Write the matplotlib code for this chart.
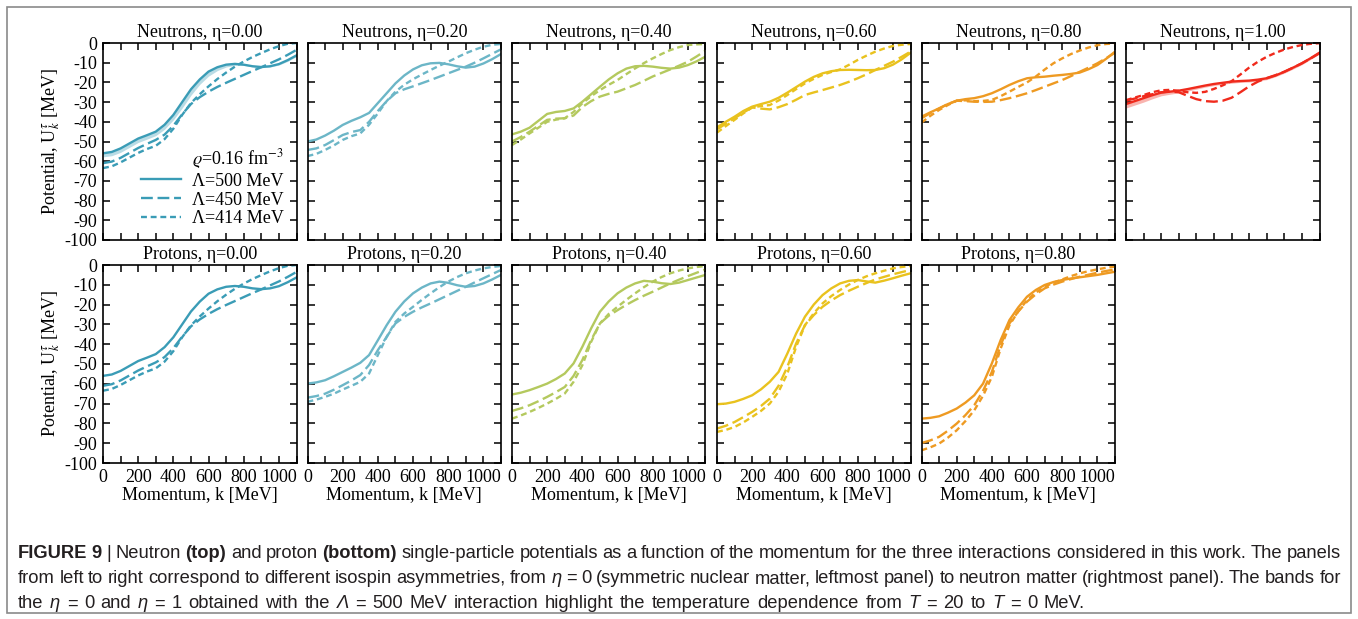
import matplotlib
matplotlib.use('Agg')
import matplotlib.pyplot as plt
from matplotlib.lines import Line2D
from matplotlib.patches import Rectangle
from matplotlib.ticker import MultipleLocator

plt.rcParams['font.family'] = ['Liberation Serif', 'DejaVu Serif']
plt.rcParams['mathtext.fontset'] = 'stix'
plt.rcParams['axes.unicode_minus'] = False

# momentum grid [MeV]
K = [0, 50, 100, 150, 200, 250, 300, 350, 400, 450, 500, 550,
     600, 650, 700, 750, 800, 850, 900, 950, 1000, 1050, 1100]

ETAS = ['0.00', '0.20', '0.40', '0.60', '0.80', '1.00']
COLORS = ['#3a9cb6', '#6cb6c7', '#b4c95e', '#e9c21e', '#ee9a22', '#f02a1c']

# neutron potentials [MeV] for Lambda = 500 / 450 / 414 MeV
n000_500 = [-56, -55.3, -53.5, -51, -48.5, -46.8, -45, -41.5, -36.5, -30, -23.5, -18.5,
            -14.5, -12.3, -11, -10.6, -11, -11.8, -12.2, -11.8, -10.7, -8.7, -6.3]
n000_500_t20 = [-57.8, -57.2, -55.5, -53, -50.5, -48.8, -47, -43.8, -39, -33, -26.5, -21,
                -16.8, -14, -12.2, -11.3, -11.4, -12.1, -12.5, -12.2, -11.2, -9.3, -6.9]
n000_450 = [-61, -60.2, -58.3, -55.8, -53.3, -51.2, -49.2, -46.5, -42, -36.2, -31, -27.5,
            -24.7, -22.3, -20.2, -18.2, -16.2, -14.2, -12.3, -10.3, -8.3, -6, -3.5]
n000_414 = [-63.5, -62.6, -60.6, -58.2, -55.8, -53.8, -52.2, -48.8, -43.5, -36.5, -30.5, -26,
            -22, -18.3, -15, -12, -9.4, -7.1, -5.1, -3.2, -1.6, -0.4, 0]

n020_500 = [-50, -49, -47, -44.5, -41.6, -39.5, -37.7, -35.5, -30.5, -25.5, -20.5, -16.5,
            -13.4, -11.3, -10.3, -10.1, -10.8, -11.8, -12.5, -12, -10.4, -8.2, -5.6]
n020_450 = [-54.3, -53.5, -51.8, -49.3, -46.7, -45.2, -44.2, -40, -34.5, -29.5, -25.5, -23.5,
            -22, -20.4, -18.8, -17.1, -15.4, -13.7, -12, -10, -7.8, -5.5, -3.2]
n020_414 = [-57.4, -56.3, -54.3, -52, -49.2, -47.3, -45.9, -41.5, -35.7, -29.5, -24.7, -21.2,
            -18.4, -16, -13.7, -11.5, -9.5, -7.3, -5.2, -3.4, -1.9, -0.9, -0.5]

n040_500 = [-46.4, -45, -43, -39.5, -36, -35, -34.5, -33.2, -29.8, -26, -22.2, -18.5,
            -15.4, -13, -11.8, -11.6, -12, -12.6, -13, -12.5, -11.2, -9.3, -6.9]
n040_450 = [-50, -47.7, -45, -42, -39, -38.4, -38.2, -36.8, -32.5, -29.5, -27.2, -25.8,
            -24.7, -23, -21.3, -19.2, -17, -15.2, -13.4, -11.5, -9.5, -6.8, -3.9]
n040_414 = [-51.8, -49, -45.9, -43, -40, -38.9, -38.2, -35, -30.6, -27, -23.9, -21.2,
            -18.8, -15.8, -12.9, -10.2, -7.8, -5.6, -3.6, -2.1, -1, -0.7, -0.5]

n060_500 = [-42.8, -40, -37.4, -34.5, -32.3, -31, -29.8, -27.8, -25.2, -22.4, -19.6, -17.2,
            -15.4, -14.3, -13.7, -13.6, -13.7, -13.8, -13.7, -12.8, -11, -8.3, -5]
n060_450 = [-43.8, -41, -38.2, -35.3, -32.7, -33.3, -33.7, -32.6, -31, -28.8, -26.4, -25.1,
            -23.9, -22.6, -21.3, -19.7, -17.9, -15.9, -13.7, -11.6, -9.5, -7, -4.4]
n060_414 = [-45.5, -42.2, -39, -35.7, -32.7, -32, -31.5, -29.2, -26.4, -23.4, -20.5, -18.2,
            -16.2, -14.7, -13.4, -11.1, -8.6, -6.4, -4.4, -2.8, -1.5, -0.9, -0.5]

n080_500 = [-37.4, -35.2, -33.2, -31, -29.3, -28.5, -28, -27, -25.5, -23.5, -21.3, -19.4,
            -17.9, -17.4, -17.1, -16.6, -16.2, -15.7, -15, -13.3, -11.2, -8, -4.4]
n080_450 = [-38.2, -35.6, -33.2, -31, -29.3, -29.5, -29.8, -29.9, -29.8, -29, -28, -26.8,
            -25.5, -23.9, -22.2, -20.5, -18.8, -16.8, -14.6, -12.5, -10.3, -7.7, -4.9]
n080_414 = [-40.4, -37, -34, -31.5, -29.3, -29.1, -29.5, -29.4, -28.9, -27, -24.7, -22.3,
            -20, -17, -13.5, -10.3, -7.8, -5.6, -3.8, -2.3, -1.1, -0.5, -0.2]

n100_500 = [-31, -29.5, -28, -26.5, -25.2, -24.7, -24.2, -23.4, -22.5, -21.6, -20.8, -20.2,
            -19.6, -19.3, -19.1, -18.6, -17.9, -16.5, -14.6, -12.5, -10.3, -7.7, -4.9]
n100_500_t20 = [-33, -31.5, -30, -28.3, -26.8, -26, -25.3, -24.4, -23.4, -22.4, -21.6, -20.9,
                -20.4, -20, -19.8, -19.3, -18.6, -17.1, -15.3, -13.2, -11, -8.3, -5.5]
n100_450 = [-29.3, -28.2, -27, -26, -25, -24.6, -25, -26.8, -28.5, -29.5, -29.8, -29.3,
            -27.8, -25, -22, -19.6, -17.8, -16.3, -14.6, -12.5, -10.3, -7.8, -5.2]
n100_414 = [-29, -27.7, -26.4, -25, -24, -23.8, -24.3, -25, -25.3, -24.8, -23.3, -21.5,
            -19.4, -16, -12.5, -9.5, -7, -5, -3.3, -2, -1, -0.4, -0.1]

# proton potentials [MeV]; eta = 0 is symmetric matter, same as neutrons
p020_500 = [-59.9, -59.3, -58.2, -56.2, -54, -51.8, -49.4, -45.5, -38, -30.4, -23.6, -18.4,
            -14.3, -11.4, -9.3, -8.4, -9, -10.2, -11, -10.6, -9.3, -7.3, -5]
p020_450 = [-67, -66.2, -65, -63, -60.7, -58.3, -55.6, -50.5, -43, -36.3, -29.5, -26.2,
            -23.6, -21.4, -19.4, -17.3, -15.2, -13.1, -11, -8.8, -6.7, -4.6, -2.5]
p020_414 = [-69.1, -68, -66.6, -65, -62.9, -61, -59, -54.8, -45.5, -36.3, -28.7, -24.5,
            -21.1, -17.6, -14.3, -11.2, -8.4, -6.1, -4.2, -2.8, -1.7, -1, -0.5]

p040_500 = [-65.4, -64.5, -63.2, -61.6, -59.9, -57.6, -54.8, -49.7, -41.3, -32, -23.6, -18.4,
            -14.3, -11.4, -9.3, -8, -8.4, -9.2, -9.6, -8.9, -7.6, -6.3, -5]
p040_450 = [-73.7, -72.4, -70.8, -68.8, -66.6, -64.2, -61.6, -56, -48, -37.9, -29.5, -25.6,
            -22.8, -20.1, -17.7, -15.5, -13.5, -11.4, -9.3, -7.4, -5.6, -3.9, -2.2]
p040_414 = [-77.6, -76, -74.2, -72.2, -70, -67.6, -64.9, -59, -50.6, -38.8, -29.5, -24.7,
            -21.1, -17.6, -14.3, -11.2, -8.4, -6.1, -4.2, -2.8, -1.7, -1, -0.5]

p060_500 = [-70.3, -70, -69.1, -67.6, -65.8, -62.8, -59, -54, -44.7, -34.6, -26.1, -20,
            -15.2, -11.8, -9.3, -8, -7.6, -8.3, -8.9, -7.9, -6.7, -5.4, -4.2]
p060_450 = [-82.6, -81.2, -79.3, -76.8, -74.2, -71.2, -67.5, -61, -51.4, -39.6, -30.4, -25.3,
            -21.1, -17.9, -15.2, -13, -11, -9.1, -7.3, -6, -4.7, -3.6, -2.5]
p060_414 = [-84.3, -83.3, -81.8, -79.5, -76.7, -73.7, -70, -64, -54.8, -41.3, -30.4, -24.4,
            -19.4, -15.7, -12.6, -9.9, -7.6, -5.7, -4.2, -2.9, -1.7, -1, -0.5]

p080_500 = [-77.6, -77.2, -76.4, -74.6, -72.5, -69.5, -65.8, -59.9, -49.7, -37.9, -27.8, -21.4,
            -16, -12.6, -10.1, -8.6, -7.6, -6.8, -6.2, -5.6, -5, -4.2, -3.4]
p080_450 = [-89.9, -88.6, -86.8, -83.7, -80.1, -75.8, -70.8, -63.5, -54, -40.5, -29.5, -23.5,
            -18.5, -14.8, -11.8, -9.9, -8.4, -7.1, -5.9, -4.9, -3.9, -3, -2.2]
p080_414 = [-93.6, -92.1, -90.2, -87.2, -83.5, -78.8, -73.4, -66, -56.5, -42.2, -30.4, -23.4,
            -17.7, -13.9, -11, -8.9, -7.3, -5.6, -4.2, -3.1, -2.2, -1.4, -0.8]

neutrons = [(n000_500, n000_450, n000_414), (n020_500, n020_450, n020_414),
            (n040_500, n040_450, n040_414), (n060_500, n060_450, n060_414),
            (n080_500, n080_450, n080_414), (n100_500, n100_450, n100_414)]
protons = [(n000_500, n000_450, n000_414), (p020_500, p020_450, p020_414),
           (p040_500, p040_450, p040_414), (p060_500, p060_450, p060_414),
           (p080_500, p080_450, p080_414)]
bands = {0: n000_500_t20, 5: n100_500_t20}

CAPTION = [
    [('FIGURE 9', 'b'), ('|', 'n'), ('Neutron', 'n'), ('(top)', 'b'), ('and proton', 'n'),
     ('(bottom)', 'b'),
     ('single-particle potentials as a function of the momentum for the three interactions '
      'considered in this work. The panels', 'n')],
    [('from left to right correspond to different isospin asymmetries, from', 'n'), ('η', 'i'),
     ('= 0 (symmetric nuclear matter, leftmost panel) to neutron matter (rightmost panel). '
      'The bands for', 'n')],
    [('the', 'n'), ('η', 'i'), ('= 0 and', 'n'), ('η', 'i'), ('= 1 obtained with the', 'n'),
     ('Λ', 'i'), ('= 500 MeV interaction highlight the temperature dependence from', 'n'),
     ('T', 'i'), ('= 20 to', 'n'), ('T', 'i'), ('= 0 MeV.', 'n')],
]
CAPTION_ENDS = [1341, 1341, 1085]

W, H = 1358, 619
LEFTS = [103, 307.5, 512, 717, 921.5, 1126]
AX_W = 193.5
DASHED = (5, 2)
DOTTED = (2.5, 1.6)
CAP_FONT = ['Liberation Sans Narrow', 'Liberation Sans']


def draw_panel(fig, left, top, bottom, curves, color, title, band=None):
    ax = fig.add_axes([left / W, 1 - bottom / H, AX_W / W, (bottom - top) / H])
    s, d, p = curves
    if band is not None:
        ax.fill_between(K, band, s, color=color, alpha=0.35, lw=0)
    ax.plot(K, s, color=color, lw=1.7)
    ax.plot(K, d, color=color, lw=1.7, dashes=DASHED)
    ax.plot(K, p, color=color, lw=1.7, dashes=DOTTED)
    ax.set_xlim(0, 1100)
    ax.set_ylim(-100, 0)
    ax.xaxis.set_major_locator(MultipleLocator(200))
    ax.xaxis.set_minor_locator(MultipleLocator(100))
    ax.yaxis.set_major_locator(MultipleLocator(10))
    ax.tick_params(which='both', direction='in', top=True, right=True, length=5, width=1.1,
                   labelsize=13, labelbottom=False, labelleft=False, pad=4)
    for sp in ax.spines.values():
        sp.set_linewidth(1.2)
    ax.set_title(title, fontsize=13, pad=4)
    return ax


def caption_line(fig, segments, y, x0, x1, size):
    # words are spread out so the line runs from x0 to x1 (justified text)
    r = fig.canvas.get_renderer()
    words = []
    for seg, style in segments:
        for w in seg.split():
            kw = {}
            if style == 'b':
                kw['fontweight'] = 'bold'
            if style == 'i':
                kw['fontstyle'] = 'italic'
            t = fig.text(0, 1 - y / H, w, fontsize=size, family=CAP_FONT, color='#231f20',
                         va='baseline', ha='left', **kw)
            words.append((t, t.get_window_extent(r).width))
    total = sum(w for _, w in words)
    gap = (x1 - x0 - total) / (len(words) - 1)
    x = x0
    for t, w in words:
        t.set_x(x / W)
        x += w + gap


fig = plt.figure(figsize=(W / 100, H / 100), dpi=100)

for i, eta in enumerate(ETAS):
    ax = draw_panel(fig, LEFTS[i], 43, 240, neutrons[i], COLORS[i],
                    'Neutrons, η=' + eta, bands.get(i))
    if i == 0:
        ax.tick_params(labelleft=True)
        ax.set_ylabel(r'Potential, U$_k^\tau$ [MeV]', fontsize=13, labelpad=2)
        handles = [Line2D([], [], lw=0),
                   Line2D([], [], color=COLORS[0], lw=1.7),
                   Line2D([], [], color=COLORS[0], lw=1.7, dashes=DASHED),
                   Line2D([], [], color=COLORS[0], lw=1.7, dashes=DOTTED)]
        labels = [r'$\varrho$=0.16 fm$^{-3}$', 'Λ=500 MeV', 'Λ=450 MeV', 'Λ=414 MeV']
        ax.legend(handles, labels, loc='lower right', frameon=False, fontsize=13,
                  handlelength=2.2, handletextpad=0.6, labelspacing=0.1,
                  borderaxespad=0.3)

for i, eta in enumerate(ETAS[:5]):
    ax = draw_panel(fig, LEFTS[i], 265, 463, protons[i], COLORS[i],
                    'Protons, η=' + eta)
    ax.tick_params(labelbottom=True)
    ax.set_xlabel('Momentum, k [MeV]', fontsize=13, labelpad=1)
    if i == 0:
        ax.tick_params(labelleft=True)
        ax.set_ylabel(r'Potential, U$_k^\tau$ [MeV]', fontsize=13, labelpad=2)

fig.patches.append(Rectangle((7 / W, 6 / H), (1351 - 7) / W, (612 - 6) / H,
                             transform=fig.transFigure, fill=False, ec='#8a8a8a', lw=1.2))

for j, segs in enumerate(CAPTION):
    caption_line(fig, segs, 557.5 + 25.5 * j, 18, CAPTION_ENDS[j], 13.2)

fig.savefig('out.png', dpi=100)
